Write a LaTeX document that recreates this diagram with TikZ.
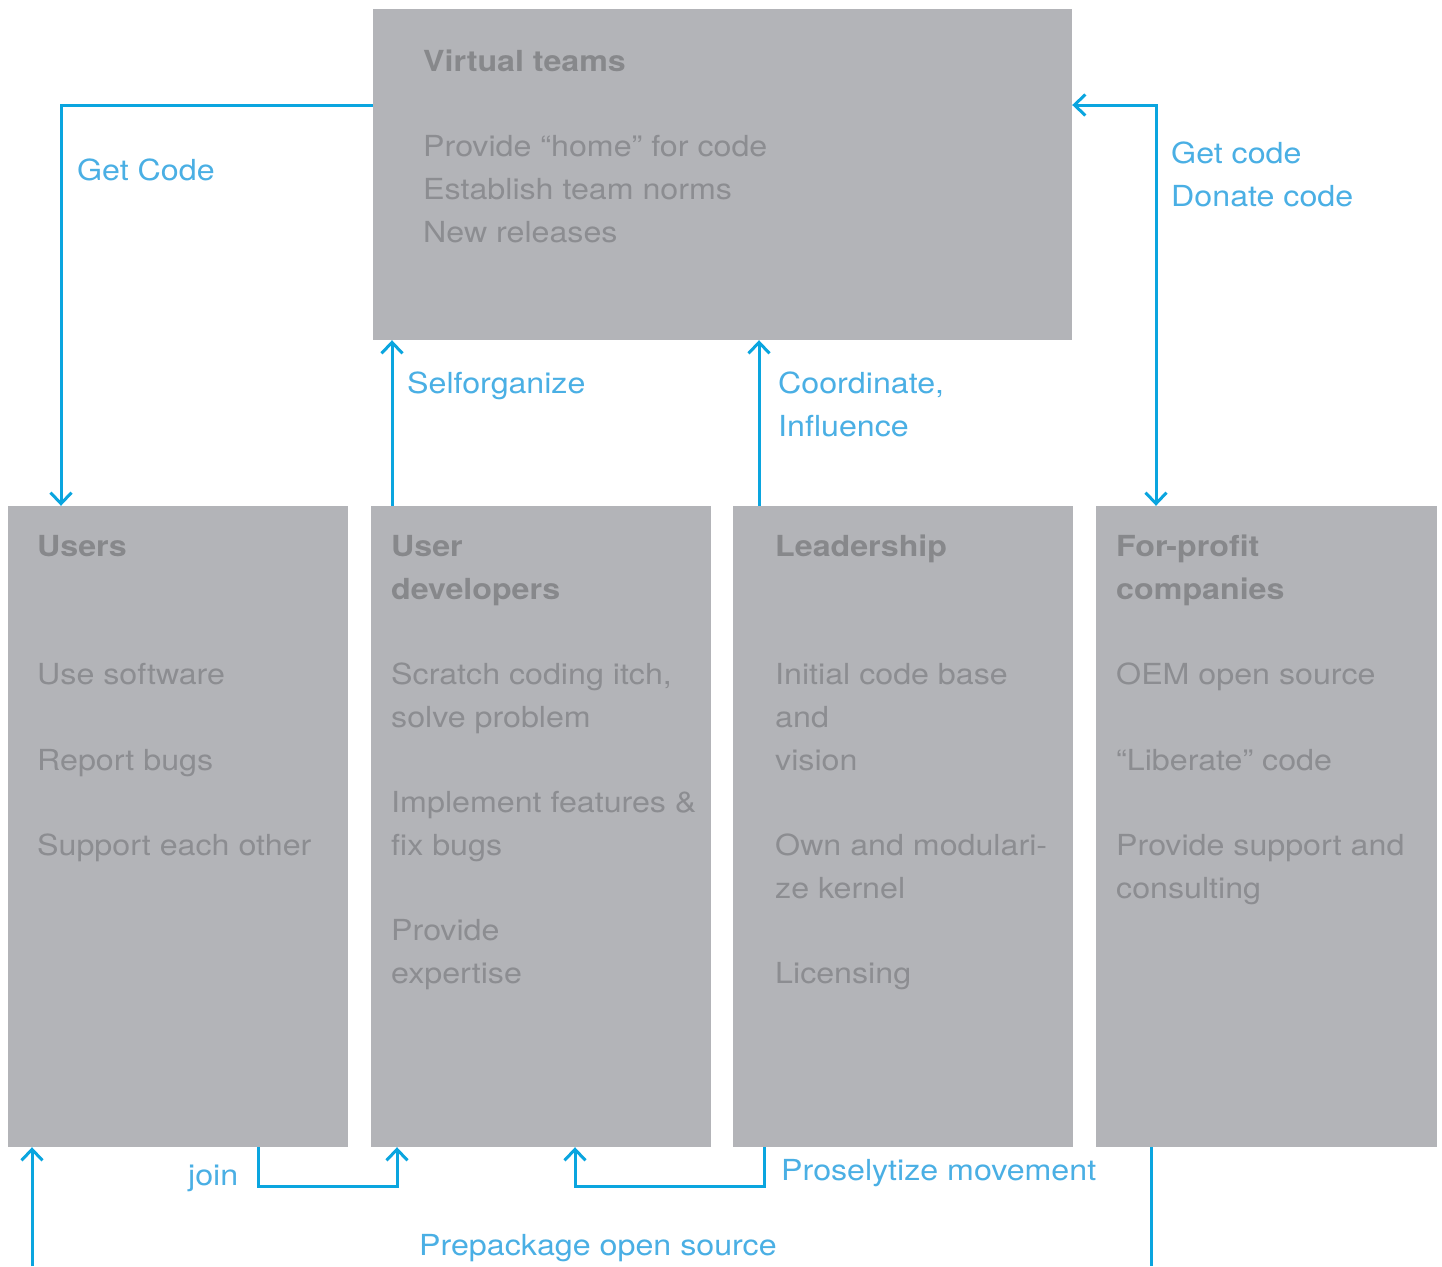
\documentclass[tikz,border=0pt]{standalone}
\usepackage{fontspec}
\setmainfont{TeX Gyre Heros}[FakeStretch=1.11]
\usetikzlibrary{arrows.meta}
\definecolor{boxgray}{HTML}{B3B4B8}
\definecolor{titlegray}{HTML}{87888B}
\definecolor{bodygray}{HTML}{8C8D91}
\definecolor{linkblue}{HTML}{0AA5DF}
\definecolor{labelblue}{HTML}{4AAFE4}
\tikzset{
  box/.style={fill=boxgray, draw=none},
  ttl/.style={anchor=base west, inner sep=0pt, text=titlegray, font=\fontsize{29}{34}\selectfont\bfseries},
  txt/.style={anchor=base west, inner sep=0pt, text=bodygray, font=\fontsize{29}{34}\selectfont},
  lbl/.style={anchor=base west, inner sep=0pt, text=labelblue, font=\fontsize{29}{34}\selectfont},
  link/.style={draw=linkblue, line width=3pt},
  tip/.tip={Straight Barb[length=11pt,width=21pt,line width=3pt]},
}
\begin{document}
\begin{tikzpicture}[x=1pt,y=-1pt]
\useasboundingbox (0,0) rectangle (1442,1266);
% boxes
\path[box] (373,9) rectangle (1072,340);
\path[box] (8,506) rectangle (348,1147);
\path[box] (371,506) rectangle (711,1147);
\path[box] (733,506) rectangle (1073,1147);
\path[box] (1096,506) rectangle (1437,1147);
\node[inner sep=0pt, minimum width=699pt, minimum height=331pt] (vt) at (722.5,174.5) {};
\node[inner sep=0pt, minimum width=340pt, minimum height=641pt] (us) at (178,826.5) {};
\node[inner sep=0pt, minimum width=340pt, minimum height=641pt] (ud) at (541,826.5) {};
\node[inner sep=0pt, minimum width=340pt, minimum height=641pt] (ld) at (903,826.5) {};
\node[inner sep=0pt, minimum width=341pt, minimum height=641pt] (fp) at (1266.5,826.5) {};

% Virtual teams text
\node[ttl] (vt0) at (423,71) {Virtual teams};
\node[txt] (vt1) at (423,156) {Provide “home” for code};
\node[txt] (vt2) at (423,199) {Establish team norms};
\node[txt] (vt3) at (423,242) {New releases};

% Users
\node[ttl] (us0) at (37,556) {Users};
\node[txt] (us1) at (37,684) {Use software};
\node[txt] (us2) at (37,770) {Report bugs};
\node[txt] (us3) at (37,855) {Support each other};

% User developers
\node[ttl] (ud0) at (391,556) {User};
\node[ttl] (ud0b) at (391,599) {developers};
\node[txt] (ud1) at (391,684) {Scratch coding itch,};
\node[txt] (ud2) at (391,727) {solve problem};
\node[txt] (ud3) at (391,812) {Implement features \&};
\node[txt] (ud4) at (391,855) {fix bugs};
\node[txt] (ud5) at (391,940) {Provide};
\node[txt] (ud6) at (391,983) {expertise};

% Leadership
\node[ttl] (ld0) at (775,556) {Leadership};
\node[txt] (ld1) at (775,684) {Initial code base};
\node[txt] (ld2) at (775,727) {and};
\node[txt] (ld3) at (775,770) {vision};
\node[txt] (ld4) at (775,855) {Own and modulari-};
\node[txt] (ld5) at (775,898) {ze kernel};
\node[txt] (ld6) at (775,983) {Licensing};

% For-profit
\node[ttl] (fp0) at (1116,556) {For-profit};
\node[ttl] (fp0b) at (1116,599) {companies};
\node[txt] (fp1) at (1116,684) {OEM open source};
\node[txt] (fp2) at (1116,770) {“Liberate” code};
\node[txt] (fp3) at (1116,855) {Provide support and};
\node[txt] (fp4) at (1116,898) {consulting};

% connectors
\draw[link,-{tip}] (vt.west |- 0,105) -| (us.north -| 61,0);
\draw[link,{tip}-{tip}] (vt.east |- 0,105) -| (fp.north -| 1156,0);
\draw[link,-{tip}] (ud.north -| 392,0) -- (vt.south -| 392,0);
\draw[link,-{tip}] (ld.north -| 759,0) -- (vt.south -| 759,0);
\coordinate (bl) at (32,1266);
\draw[link,-{tip}] (bl) -- (us.south -| bl);
\draw[link,-{tip}] (us.south -| 258,0) |- (397,1186) -- (ud.south -| 397,0);
\draw[link,-{tip}] (ld.south -| 764,0) |- (575,1186) -- (ud.south -| 575,0);
\coordinate (br) at (1151,1266);
\draw[link] (fp.south -| br) -- (br);

% labels
\node[lbl] (l1) at (77,180) {Get Code};
\node[lbl] (l2) at (1171,163) {Get code};
\node[lbl] (l3) at (1171,206) {Donate code};
\node[lbl] (l4) at (407,393) {Selforganize};
\node[lbl] (l5) at (778,393) {Coordinate,};
\node[lbl] (l6) at (778,436) {Influence};
\node[lbl] (l7) at (188,1185) {join};
\node[lbl] (l8) at (781,1180) {Proselytize movement};
\node[lbl] (l9) at (419,1255) {Prepackage open source};
\end{tikzpicture}
\end{document}
